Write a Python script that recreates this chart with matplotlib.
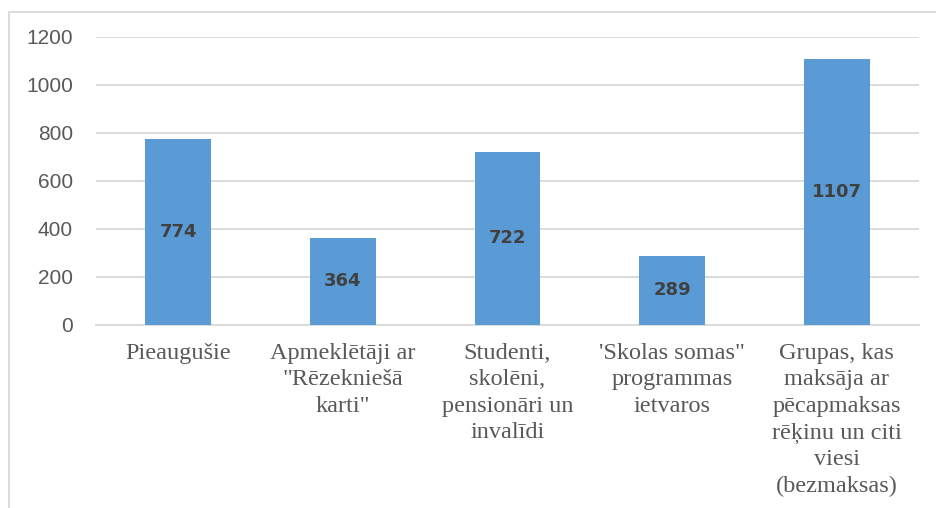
import matplotlib.pyplot as plt
from matplotlib.patches import Rectangle

categories = [
    'Pieaugušie',
    'Apmeklētāji ar\n"Rēzekniešā\nkarti"',
    'Studenti,\nskolēni,\npensionāri un\ninvalīdi',
    '\'Skolas somas"\nprogrammas\nietvaros',
    'Grupas, kas\nmaksāja ar\npēcapmaksas\nrēķinu un citi\nviesi\n(bezmaksas)',
]
values = [774, 364, 722, 289, 1107]
yticks = [0, 200, 400, 600, 800, 1000, 1200]

W, H = 936, 508
fig = plt.figure(figsize=(W / 100, H / 100), dpi=100)
# axes box in pixels: left 96, right 919, top 37 (1200), bottom 325 (0)
ax = fig.add_axes([96 / W, 1 - 325 / H, (919 - 96) / W, (325 - 37) / H])

x = list(range(len(values)))
bars = ax.bar(x, values, width=0.40, color='#5b9bd5', zorder=3)
for xi, v in zip(x, values):
    ax.text(xi, v / 2, str(v), ha='center', va='center', fontsize=13,
            fontweight='bold', color='#404040', family='DejaVu Sans', zorder=4)

ax.set_xlim(-0.5, len(values) - 0.5)
ax.set_ylim(0, 1200)
ax.set_yticks(yticks)
ax.set_yticklabels([str(t) for t in yticks], fontsize=15, color='#595959',
                   family='Liberation Sans')
ax.grid(axis='y', color='#d9d9d9', linewidth=1.3, zorder=0)
ax.tick_params(axis='y', length=0, pad=16.5)
ax.tick_params(axis='x', length=0, pad=13)
ax.set_xticks(x)
ax.set_xticklabels(categories, fontsize=17.5, color='#595959',
                   family='Liberation Serif', linespacing=1.34, va='top')
for s in ['top', 'right', 'left']:
    ax.spines[s].set_visible(False)
ax.spines['bottom'].set_color('#d9d9d9')
ax.spines['bottom'].set_linewidth(1.3)

# outer chart border (only left/top visible in the crop)
fig.patches.append(Rectangle((8.5 / W, -0.1), 1.2, 1 - 12.5 / H + 0.1,
                             transform=fig.transFigure, fill=False,
                             edgecolor='#d9d9d9', linewidth=1.3))

fig.savefig('out.png', dpi=100, facecolor='white')
